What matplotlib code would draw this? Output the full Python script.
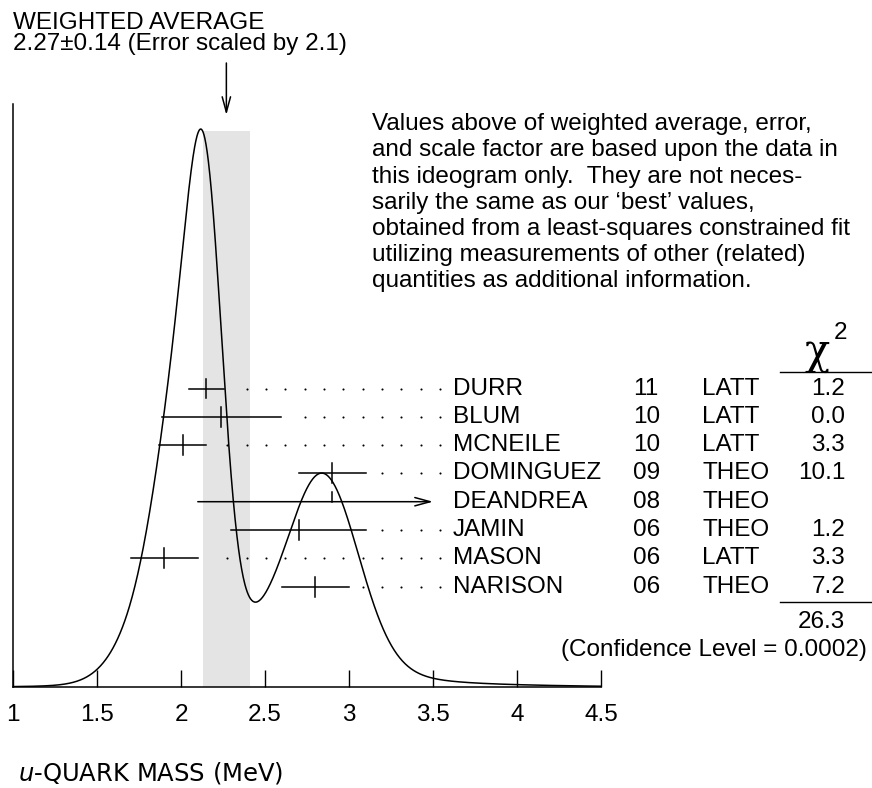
"""
Ideogramma della massa del quark u (stile PDG), con tabella dei chi quadro.
"""

import numpy as np
import matplotlib
matplotlib.use('Agg')
import matplotlib.pyplot as plt
from matplotlib import transforms

plt.rcParams['font.family'] = ['Liberation Sans', 'DejaVu Sans']

# Misure: nome, anno, tipo, valore centrale, errore, chi quadro
names = ['DURR', 'BLUM', 'MCNEILE', 'DOMINGUEZ', 'DEANDREA', 'JAMIN', 'MASON', 'NARISON']
years = ['11', '10', '10', '09', '08', '06', '06', '06']
kinds = ['LATT', 'LATT', 'LATT', 'THEO', 'THEO', 'THEO', 'LATT', 'THEO']
values = [2.15, 2.24, 2.01, 2.9, 2.9, 2.7, 1.9, 2.8]
errors = [0.104, 0.354, 0.14, 0.2, 0.8, 0.4, 0.2, 0.2]
chi2 = ['1.2', '0.0', '3.3', '10.1', '', '1.2', '3.3', '7.2']
CHI2_TOTAL = '26.3'
CONF_LEVEL = '(Confidence Level = 0.0002)'
AVG = 2.27
AVG_ERR = 0.14
xticks = [1, 1.5, 2, 2.5, 3, 3.5, 4, 4.5]
xticklabels = ['1', '1.5', '2', '2.5', '3', '3.5', '4', '4.5']

W, H = 872, 788
FS = 17.5


def fx(px):
    """Pixel orizzontale -> frazione di figura."""
    return px / W


def fy(py):
    """Pixel verticale (dall'alto) -> frazione di figura."""
    return 1 - py / H


fig = plt.figure(figsize=(W / 100, H / 100), dpi=100)
ax = fig.add_axes([fx(13), fy(687), fx(601) - fx(13), fy(104) - fy(687)])

# Ideogramma: ogni misura e' una gaussiana con area proporzionale a 1/sigma
x = np.linspace(1, 4.5, 1500)
curve = np.zeros_like(x)
for v, e in zip(values, errors):
    curve += np.exp(-(x - v) ** 2 / (2 * e ** 2)) / (e ** 2 * np.sqrt(2 * np.pi))

ax.plot(x, curve, color='black', lw=1.1)
ax.set_xlim(1, 4.5)
ax.set_ylim(0, curve.max() / 0.957)

blend = transforms.blended_transform_factory(ax.transData, ax.transAxes)
ax.fill_between([AVG - AVG_ERR, AVG + AVG_ERR], 0, 0.954, transform=blend,
                color='#e4e4e4', lw=0, zorder=0)

for s in ['top', 'right']:
    ax.spines[s].set_visible(False)
for s in ['left', 'bottom']:
    ax.spines[s].set_linewidth(1.1)
ax.set_yticks([])
ax.set_xticks(xticks)
ax.set_xticklabels(xticklabels)
ax.tick_params(axis='x', direction='in', length=12.5, width=1, labelsize=FS, pad=12.5)

# Barre d'errore e puntini verso i nomi
DOT_LAST = 3.542
DOT_STEP = 0.1151
TICK_H = 0.017
for i, (v, e) in enumerate(zip(values, errors)):
    yf = (687 - (388.5 + 28.3 * i)) / 583
    lo, hi = v - e, v + e
    if hi > 3.55:
        ax.annotate('', xy=(3.5, yf), xytext=(lo, yf), xycoords=blend,
                    arrowprops=dict(arrowstyle='->,head_length=1.1,head_width=0.3',
                                    lw=1.1, color='black', shrinkA=0, shrinkB=0))
        ax.plot([v, v], [yf, yf + TICK_H], transform=blend, color='black', lw=1.1)
    else:
        ax.plot([lo, hi], [yf, yf], transform=blend, color='black', lw=1.1)
        ax.plot([v, v], [yf - TICK_H, yf + TICK_H], transform=blend, color='black', lw=1.1)
        dots = DOT_LAST - DOT_STEP * np.arange(30)
        dots = dots[dots > hi + 0.0714]
        ax.plot(dots, np.full_like(dots, yf), transform=blend, ls='none',
                marker='o', ms=1.5, mew=0, color='black')
    ypx = 388.5 + 28.3 * i
    fig.text(fx(453), fy(ypx), names[i], fontsize=FS, va='center', ha='left')
    fig.text(fx(633), fy(ypx), years[i], fontsize=FS, va='center', ha='left')
    fig.text(fx(702), fy(ypx), kinds[i], fontsize=FS, va='center', ha='left')
    fig.text(fx(845), fy(ypx), chi2[i], fontsize=FS, va='center', ha='right')

# Tabella chi quadro
fig.text(fx(817), fy(352), 'χ', fontsize=30, va='center', ha='center',
         family=['DejaVu Serif'])
fig.text(fx(840), fy(333), '2', fontsize=FS, va='center', ha='center')
fig.add_artist(plt.Line2D([fx(780), fx(872)], [fy(372), fy(372)], color='black', lw=1))
fig.add_artist(plt.Line2D([fx(780), fx(872)], [fy(602), fy(602)], color='black', lw=1))
fig.text(fx(845), fy(622), CHI2_TOTAL, fontsize=FS, va='center', ha='right')
fig.text(fx(867), fy(650), CONF_LEVEL, fontsize=FS, va='center', ha='right')

# Media pesata
fig.text(fx(13), fy(23), 'WEIGHTED AVERAGE', fontsize=FS, va='center', ha='left')
fig.text(fx(13), fy(44), f'{AVG}±{AVG_ERR} (Error scaled by 2.1)', fontsize=FS,
         va='center', ha='left')
ax.annotate('', xy=(AVG, fy(115)), xytext=(AVG, fy(63)),
            xycoords=('data', 'figure fraction'),
            textcoords=('data', 'figure fraction'),
            arrowprops=dict(arrowstyle='->,head_length=1.1,head_width=0.3',
                            lw=1.1, color='black', shrinkA=0, shrinkB=0),
            annotation_clip=False)

note = ("Values above of weighted average, error,\n"
        "and scale factor are based upon the data in\n"
        "this ideogram only.  They are not neces-\n"
        "sarily the same as our \u2018best\u2019 values,\n"
        "obtained from a least-squares constrained fit\n"
        "utilizing measurements of other (related)\n"
        "quantities as additional information.")
fig.text(fx(372), fy(113), note, fontsize=FS, va='top', ha='left', linespacing=1.25)

fig.text(fx(18), fy(773), r'$u$-QUARK MASS (MeV)', fontsize=FS, va='center', ha='left',
         family=['DejaVu Sans'])

fig.savefig('out.png', dpi=100)
